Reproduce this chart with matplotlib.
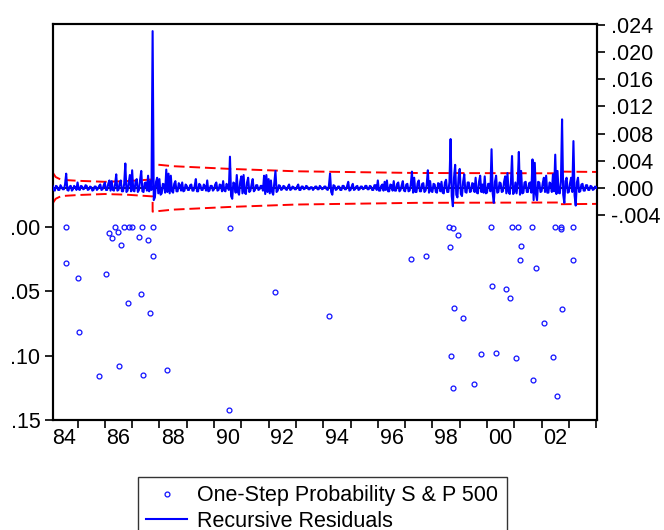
import matplotlib
matplotlib.use("Agg")
import matplotlib.pyplot as plt
import numpy as np

plt.rcParams['font.family'] = ['Liberation Sans', 'DejaVu Sans']

# recursive residuals, half-monthly from Feb 1984, in thousandths (one row per year)
res_milli = [
    0.3, -0.2, -0.4, 0.3, 0.2, -0.3, -0.3, 0.4, 0.1, -0.2, -0.2, 0.5, 2.1, -0.3, -0.4, 0.2, 0.3, -0.4, -0.2, 0.3, 0.1, -0.3, 0.8, -0.2,
    -0.3, 0.3, 0.2, -0.2, -0.1, 0.4, 0.3, -0.3, -0.2, 0.2, 0.1, -0.4, -0.3, 0.2, 0.2, -0.3, -0.1, 0.3, 0.5, -0.3, -0.2, 0.4, 0.8, -0.3,
    -0.3, 0.6, 1.1, -0.4, 1.0, -0.3, -0.4, 0.5, 2.0, -0.4, -0.3, 0.7, 1.1, -0.5, -0.5, 0.6, 3.6, -0.6, -0.4, 0.8, 1.9, -0.5, 2.6, -0.4,
    -0.5, 0.9, 1.3, -0.6, -0.3, 1.2, 2.5, -0.5, -0.6, 0.7, 0.8, -0.4, 1.8, -0.5, 1.0, -0.3, 23.1, -1.8, -1.4, 0.9, 1.5, -0.8, 1.3, -1.0,
    -0.8, 0.6, 0.5, -0.7, 2.7, -0.6, 2.1, -0.8, 1.8, -0.5, -0.7, 0.6, 1.0, -0.5, -0.5, 0.7, 0.4, -0.4, 0.8, -0.5, -0.4, 0.5, 0.3, -0.3,
    -0.3, 0.4, 0.5, -0.4, -0.4, 0.3, 1.3, -0.5, -0.5, 0.6, 0.4, -0.3, -0.3, 0.5, 0.2, -0.4, 1.1, -0.5, -0.4, 0.3, 0.3, -0.4, -0.2, 0.5,
    0.8, -0.4, -0.3, 0.5, 0.4, -0.5, 1.0, -0.4, -0.5, 0.6, 0.3, -0.3, 4.6, -1.2, -1.6, 0.8, 0.6, -0.7, 1.9, -0.6, -1.0, 0.9, 1.7, -0.8,
    1.9, -0.7, -0.9, 0.8, 1.5, -0.6, -0.4, 0.5, 1.3, -0.5, -0.3, 0.4, 0.4, -0.3, -0.2, 0.3, 0.3, -0.4, 1.8, -0.9, 1.9, -0.6, 1.3, -0.8,
    1.1, -0.6, -1.0, 0.7, 2.5, -0.6, -0.4, 0.4, 0.3, -0.3, -0.2, 0.3, 0.2, -0.2, -0.3, 0.2, 0.5, -0.3, -0.2, 0.2, 0.1, -0.2, -0.2, 0.2,
    0.5, -0.3, -0.3, 0.2, 0.2, -0.2, -0.1, 0.3, 0.2, -0.2, -0.2, 0.1, 0.1, -0.3, -0.1, 0.2, 0.2, -0.2, -0.2, 0.3, 0.1, -0.2, -0.1, 0.2,
    0.2, -0.2, -0.3, 0.3, 2.1, -0.6, -1.0, 0.4, 0.3, -0.3, -0.2, 0.2, 0.2, -0.3, -0.3, 0.3, 0.3, -0.2, -0.2, 0.3, 0.9, -0.4, -0.3, 0.2,
    0.6, -0.3, -0.2, 0.2, 0.3, -0.3, -0.2, 0.2, 0.2, -0.2, -0.1, 0.3, 0.3, -0.2, -0.2, 0.3, 0.2, -0.3, -0.3, 0.4, 0.4, -0.3, 1.1, -0.4,
    -0.4, 0.3, 0.5, -0.4, 0.9, -0.3, 1.1, -0.5, -0.5, 0.5, 0.4, -0.4, 1.0, -0.4, -0.4, 0.6, 0.8, -0.5, -0.3, 0.4, 1.0, -0.4, -0.5, 0.5,
    0.6, -0.5, -0.4, 0.5, 2.4, -0.7, 1.5, -0.6, -0.6, 0.7, 1.1, -0.5, -0.5, 0.6, 0.7, -0.6, -0.4, 0.5, 2.6, -0.7, 1.0, -0.5, -0.6, 0.6,
    0.5, -0.6, -0.7, 0.7, 0.6, -0.5, 0.9, -0.7, -0.8, 0.8, 1.2, -0.6, -0.6, 0.9, 7.2, -1.2, -2.7, 1.5, 3.4, -1.0, -1.4, 1.6, 2.8, -0.9,
    -1.2, 0.9, 2.0, -0.6, -0.7, 0.8, 0.8, -0.6, -0.5, 0.7, 0.6, -0.6, 1.5, -0.7, -0.8, 0.9, 1.8, -0.6, 0.5, -0.7, 1.7, -0.8, -0.7, 0.6,
    0.6, -0.5, 5.7, -0.8, -2.2, 0.9, 1.8, -0.7, -0.6, 0.8, 0.7, -0.6, -0.5, 0.9, 1.7, -0.8, 2.2, -0.6, -0.9, 0.7, 4.7, -0.9, -0.6, 0.8,
    -0.8, 0.7, 5.3, -1.0, 2.5, -0.8, -0.7, 0.8, 0.9, -0.6, -0.6, 0.7, 0.8, -0.7, 4.2, -1.8, 3.7, -0.9, -1.8, 0.9, 0.8, -0.6, -0.5, 0.7,
    1.5, -0.6, 1.8, -0.7, -0.7, 0.8, 0.6, -0.6, 2.0, -0.5, 4.9, -0.9, 2.5, -0.7, -0.8, 0.9, 10.1, -1.0, -2.2, 1.0, 1.5, -0.7, -0.6, 0.7,
    1.5, -0.6, 6.9, -1.1, -2.6, 0.8, 1.5, -0.6, -0.5, 0.5, 0.6, -0.4, -0.4, 0.4, 0.4, -0.3, -0.3, 0.3, 0.2, -0.3, -0.2, 0.2, 0.1, -0.1,
]
res_t = 1984 + 1 / 12 + np.arange(len(res_milli)) / 24

# +/- 2 S.E. band, thousandths
band_t = [1984.083, 1984.2, 1984.4, 1985.0, 1986.0, 1986.8, 1987.75, 1987.75,
          1988.5, 1990.6, 1993.0, 1997.4, 2002.7, 2002.7, 2004.1]
band_w = [2.3, 1.6, 1.2, 1.05, 0.9, 1.0, 1.25, 3.5,
          3.2, 2.8, 2.45, 2.2, 2.15, 2.4, 2.35]

# one-step probabilities (only those below .15 are visible)
prob_t = [1984.59, 1984.56, 1985.02, 1985.04, 1985.77, 1986.05, 1986.16, 1986.26,
          1986.38, 1986.49, 1986.51, 1986.59, 1986.69, 1986.85, 1986.89, 1987.00,
          1987.26, 1987.31, 1987.35, 1987.39, 1987.58, 1987.64, 1987.75, 1987.78,
          1988.27, 1990.60, 1990.56, 1992.25, 1994.21, 1997.20, 1997.78, 1998.60,
          1998.75, 1998.63, 1998.93, 1998.79, 1999.13, 1998.68, 1998.77, 1999.54,
          1999.78, 2000.16, 2000.18, 2000.32, 2000.71, 2000.83, 2000.91, 2001.06,
          2001.15, 2001.24, 2001.21, 2001.65, 2001.68, 2001.79, 2002.10, 2002.41,
          2002.49, 2002.56, 2002.70, 2002.70, 2002.74, 2003.14, 2003.15]
prob_p = [0.000, 0.028, 0.040, 0.082, 0.116, 0.037, 0.005, 0.009,
          0.000, 0.004, 0.108, 0.014, 0.000, 0.059, 0.000, 0.000,
          0.008, 0.052, 0.000, 0.115, 0.010, 0.067, 0.023, 0.000,
          0.111, 0.001, 0.142, 0.051, 0.069, 0.025, 0.023, 0.000,
          0.001, 0.016, 0.006, 0.063, 0.071, 0.100, 0.125, 0.122,
          0.099, 0.000, 0.046, 0.098, 0.048, 0.055, 0.000, 0.102,
          0.000, 0.015, 0.026, 0.000, 0.119, 0.032, 0.075, 0.101,
          0.000, 0.131, 0.000, 0.002, 0.064, 0.000, 0.026]

year_ticks = list(range(1985, 2005))
year_labels = ['84', '86', '88', '90', '92', '94', '96', '98', '00', '02']
left_ticks = [0.0, 0.05, 0.10, 0.15]
left_labels = ['.00', '.05', '.10', '.15']
right_ticks = [-0.004, 0.0, 0.004, 0.008, 0.012, 0.016, 0.020, 0.024]
right_labels = ['-.004', '.000', '.004', '.008', '.012', '.016', '.020', '.024']

fs = 15.5
fig = plt.figure(figsize=(6.64, 5.30), dpi=100)
ax = fig.add_axes([0.0798, 0.2075, 0.8193, 0.7472])

ax.plot(prob_t, prob_p, 'o', ms=3.5, mfc='none', mec='#1010ff', mew=0.9,
        label='One-Step Probability S & P 500')
ax.set_ylim(0.15, -0.1574)
ax.set_yticks(left_ticks)
ax.set_yticklabels(left_labels)
ax.set_xlim(1984.1, 2004.03)
ax.set_xticks(year_ticks)
ax.set_xticklabels([])
ax.set_xticks([1984.5 + 2 * i for i in range(len(year_labels))], minor=True)
ax.set_xticklabels(year_labels, minor=True)
ax.tick_params(axis='x', which='major', direction='out', length=6, width=1.2)
ax.tick_params(axis='x', which='minor', length=0, pad=6, labelsize=fs)
ax.tick_params(axis='y', direction='out', length=6, width=1.2, pad=3, labelsize=fs)

ax2 = ax.twinx()
ax2.axhline(0, color='black', lw=1.2, zorder=1)
bw = np.array(band_w) / 1000
ax2.plot(band_t, bw, color='#ff0000', ls=(0, (5.5, 2.5)), lw=1.4, zorder=2)
ax2.plot(band_t, -bw, color='#ff0000', ls=(0, (5.5, 2.5)), lw=1.4, zorder=2)
ax2.plot(res_t, np.array(res_milli) / 1000, color='#0000ff', lw=1.5, zorder=3,
         label='Recursive Residuals')
ax2.set_ylim(-0.0342, 0.02415)
ax2.set_yticks(right_ticks)
ax2.set_yticklabels(right_labels)
ax2.tick_params(axis='y', direction='out', length=6, width=1.2, pad=4, labelsize=fs)

for a in (ax, ax2):
    for s in a.spines.values():
        s.set_linewidth(1.5)

h1, l1 = ax.get_legend_handles_labels()
h2, l2 = ax2.get_legend_handles_labels()
leg = fig.legend(h1 + h2, l1 + l2, loc='upper left', bbox_to_anchor=(0.2074, 0.1006),
                 fontsize=fs, frameon=True, fancybox=False, edgecolor='#333333',
                 framealpha=1, handlelength=1.9, handletextpad=0.45, borderpad=0.4,
                 labelspacing=0.2, borderaxespad=0)
leg.get_frame().set_linewidth(1.0)

fig.savefig('out.png', dpi=100)
